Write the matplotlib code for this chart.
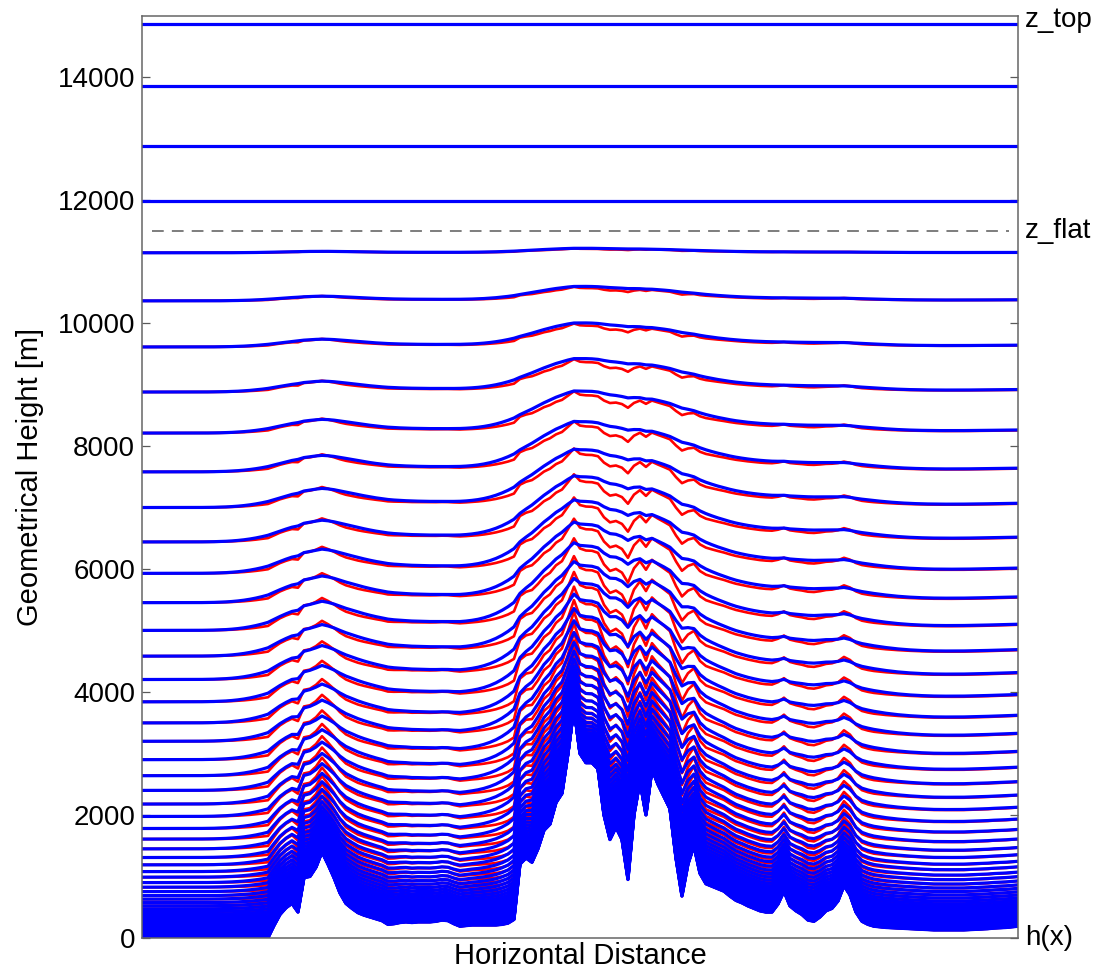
import numpy as np
import matplotlib.pyplot as plt
import matplotlib.transforms as mtransforms

plt.rcParams['font.family'] = ['Liberation Sans', 'DejaVu Sans']

# Terrain height h(x) in m along the section (equally spaced samples)
terrain = [0, 0, 0, 0, 0, 0, 0, 0, 0, 0, 0, 0, 0, 0, 0, 0, 0, 0, 0, 0, 0, 0,
           200, 380, 490, 560, 420, 980, 1000, 1150, 1400, 1200, 980, 730,
           560, 480, 410, 370, 340, 310, 280, 220, 230, 250, 260, 250, 260,
           260, 260, 270, 290, 280, 230, 190, 200, 210, 210, 210, 210, 210,
           220, 240, 300, 1200, 1300, 1230, 1450, 1750, 1850, 2200, 2350,
           3000, 3750, 3000, 2850, 2850, 2750, 2000, 1600, 1800, 1600, 950,
           2000, 2550, 2000, 2750, 2500, 2300, 2100, 1300, 680, 1200, 1500,
           1050, 880, 840, 800, 760, 680, 610, 570, 520, 480, 440, 420, 420,
           550, 760, 520, 440, 380, 290, 270, 340, 440, 480, 600, 850, 700,
           420, 270, 220, 190, 180, 170, 165, 160, 155, 150, 145, 140, 135,
           130, 130, 130, 130, 130, 130, 135, 140, 145, 150, 160, 165, 170,
           180, 190]

# Height of each coordinate level over flat ground [m]
levels = [14863, 13853, 12891, 11995, 11147, 10365, 9615, 8882, 8214, 7583,
          7003, 6443, 5932, 5455, 5004, 4585, 4205, 3842, 3499, 3200, 2901,
          2640, 2401, 2179, 1977, 1781, 1609, 1450, 1309, 1190, 1080, 989,
          901, 826, 754, 689, 631, 575, 523, 474, 430, 389, 352, 318, 287,
          258, 232, 208, 186, 166, 147, 130, 114, 99, 85, 72, 60, 49, 39, 30,
          22, 15, 9, 4, 0]

z_flat = 11500
z_top = 15000

x = np.arange(len(terrain)) * 6.0
h = np.array(terrain, dtype=float)


def smooth(field, sigma):
    half = int(3 * sigma)
    k = np.exp(-0.5 * (np.arange(-half, half + 1) / sigma) ** 2)
    k /= k.sum()
    padded = np.pad(field, half, mode='edge')
    return np.convolve(padded, k, mode='valid')


# split terrain into large-scale and small-scale parts
h_large = smooth(h, 5)
h_small = h - h_large


def decay(a, scale):
    if a >= z_flat:
        return 0.0
    return np.sinh((z_flat - a) / scale) / np.sinh(z_flat / scale)


def linear(a):
    return max(0.0, (z_flat - a) / z_flat)


fig = plt.figure(figsize=(10.98, 9.72), dpi=100)
ax = fig.add_axes([0.1293, 0.0350, 0.7978, 0.9486])

# red: single decay, blue: smoother two-scale decay
for a in levels:
    z = a + decay(a, 11000) * h_large + decay(a, 3500) * h_small
    ax.plot(x, z, color='r', lw=1.9, solid_joinstyle='round')
for a in levels:
    z = a + linear(a) * h_large + decay(a, 2000) * h_small
    ax.plot(x, z, color='b', lw=2.3, solid_joinstyle='round')

ax.axhline(z_flat, xmin=0.012, xmax=0.99, color='0.45', lw=1.3,
           dashes=(6.5, 4.5))

ax.set_xlim(x[0], x[-1])
ax.set_ylim(0, z_top)
ax.set_xticks([])
ax.set_yticks(range(0, 14001, 2000))
ax.tick_params(axis='y', direction='in', left=True, right=True, length=6,
               width=0.9, color='0.35', labelsize=20, pad=5)
for sp in ax.spines.values():
    sp.set_color('0.4')
    sp.set_linewidth(1.1)

ax.set_xlabel('Horizontal Distance', fontsize=21, labelpad=3)
ax.set_ylabel('Geometrical Height [m]', fontsize=21, labelpad=10)

trans = mtransforms.blended_transform_factory(ax.transAxes, ax.transData)
ax.text(1.008, z_top - 60, 'z_top', transform=trans, va='center', ha='left',
        fontsize=20)
ax.text(1.008, z_flat, 'z_flat', transform=trans, va='center', ha='left',
        fontsize=20)
ax.text(1.008, 0, 'h(x)', transform=trans, va='center', ha='left',
        fontsize=20)

fig.savefig('out.png', dpi=100)
